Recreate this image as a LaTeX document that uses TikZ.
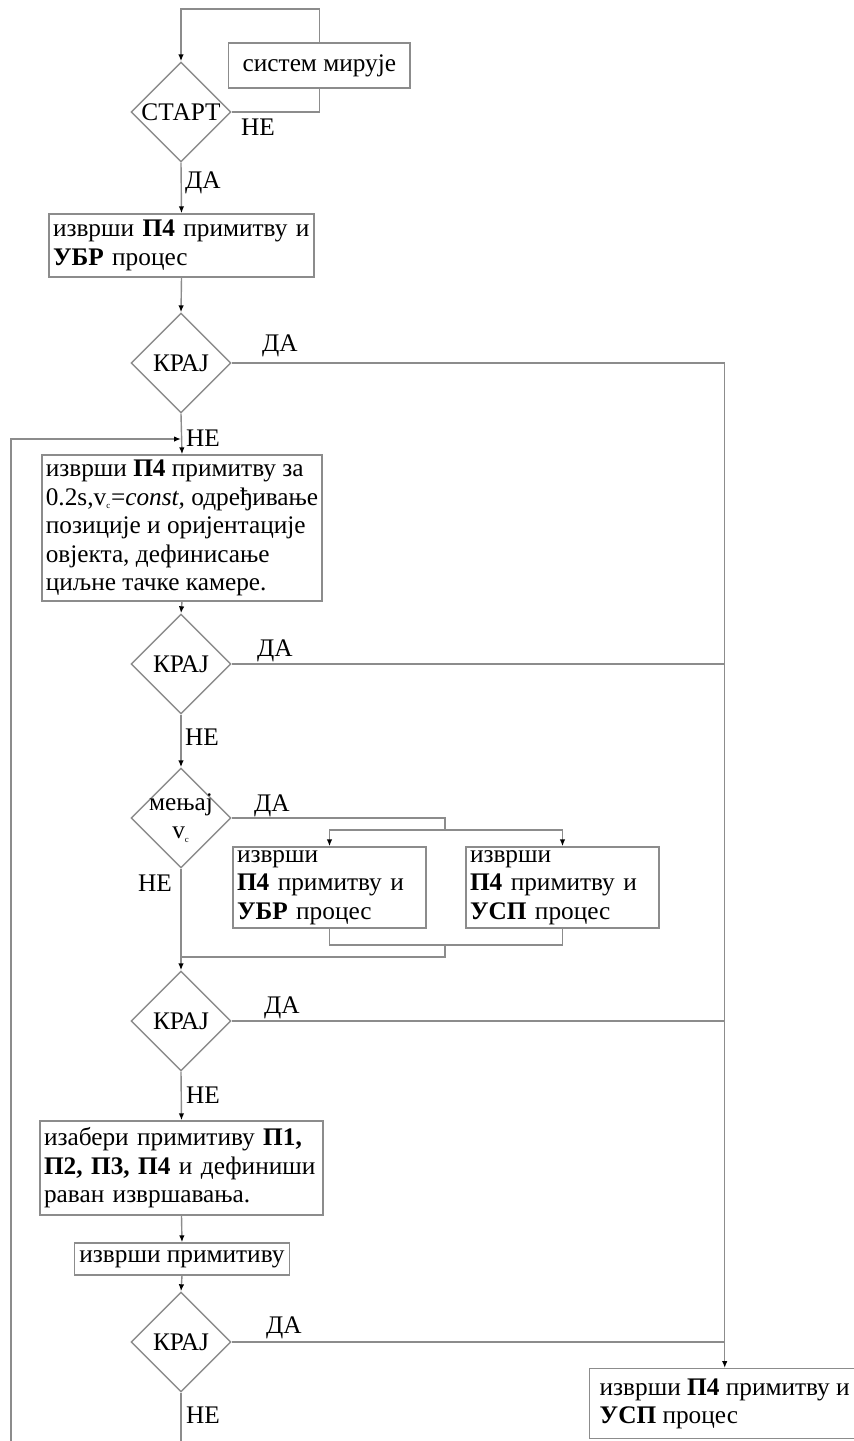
\documentclass[tikz,border=0pt]{standalone}
\usepackage{fontspec}
\setmainfont{Liberation Serif}
\usetikzlibrary{shapes.geometric,arrows.meta}
\definecolor{linija}{gray}{0.55}
\newcommand{\vc}{v\textsubscript{\tiny c}}

\begin{document}
\begin{tikzpicture}[x=0.02cm, y=-0.02cm,
  font=\fontsize{14.4}{16.2}\selectfont,
  blok/.style={rectangle, draw=linija, line width=0.8pt, inner xsep=0.08cm, inner ysep=0pt, align=left},
  odluka/.style={diamond, draw=linija, line width=0.8pt, aspect=1, minimum width=2cm, minimum height=2cm, inner sep=0pt, align=center},
  veza/.style={draw=linija, line width=0.8pt},
  strelica/.style={veza, -{Latex[length=1.4mm, width=1.1mm, color=black]}},
  oznaka/.style={inner sep=0pt}]

\useasboundingbox (0,0) rectangle (853,1441);

% Pocetak
\node[odluka] (start) at (181,112) {СТАРТ};
\node[blok, anchor=west, inner xsep=0.28cm, minimum height=0.9cm] (mir) at (228,65.5) {систем мирује};
\node[blok, text width=5.14cm, minimum height=1.26cm] (p1) at (181.5,245.5)
	{изврши \textbf{П4} примитву и\\\textbf{УБР} процес};
\node[odluka] (kraj1) at (181,363) {КРАЈ};

% Glavna petlja
\node[blok, inner xsep=0.04cm, minimum width=5.6cm, minimum height=2.92cm] (p2) at (182,528)
	{изврши \textbf{П4} примитву за\\
	 0.2s,\vc=\textit{const,} одређивање\\
	 позиције и оријентације\\
	 овјекта, дефинисање\\
	 циљне тачке камере.};
\node[odluka] (kraj2) at (181,664) {КРАЈ};
\node[odluka, inner sep=-3pt] (menjaj) at (181,818) {мењај\\\vc};
\node[blok, text width=3.7cm, minimum height=1.62cm] (ubr) at (329.5,887.5)
	{изврши\\\textbf{П4} примитву и\\\textbf{УБР} процес};
\node[blok, text width=3.7cm, minimum height=1.62cm] (usp) at (562.5,887.5)
	{изврши\\\textbf{П4} примитву и\\\textbf{УСП} процес};
\node[odluka] (kraj3) at (181,1021) {КРАЈ};
\node[blok, text width=5.5cm, minimum height=1.88cm] (p4) at (181.5,1168)
	{изабери примитиву \textbf{П1,}\\\textbf{П2, П3, П4} и дефиниши\\раван извршавања.};
\node[blok, inner xsep=0.1cm, minimum height=0.64cm] (p5) at (182,1259) {изврши примитиву};
\node[odluka] (kraj4) at (181,1342) {КРАЈ};
\node[blok, anchor=north west, inner xsep=0.2cm, minimum height=1.4cm] (fin) at (589,1368)
	{изврши \textbf{П4} примитву и\\\textbf{УСП} процес};

% Oznake grana
\node[oznaka] (neStart) at (258,127) {НЕ};
\node[oznaka] (daStart) at (203,183) {ДА};
\node[oznaka] (da1) at (280,346) {ДА};
\node[oznaka] (ne1) at (203,438) {НЕ};
\node[oznaka] (da2) at (275,651) {ДА};
\node[oznaka] (ne2) at (202,737) {НЕ};
\node[oznaka] (daV) at (272,806) {ДА};
\node[oznaka] (neV) at (155,883) {НЕ};
\node[oznaka] (da3) at (282,1008) {ДА};
\node[oznaka] (ne3) at (203,1095) {НЕ};
\node[oznaka] (da4) at (284,1328) {ДА};
\node[oznaka] (ne4) at (203,1415) {НЕ};

% Veze
\coordinate (vrh) at (181,9);
\draw[veza] (start.east) -| (mir.south);
\draw[strelica] (mir.north) |- (vrh) -- (start.north);
\draw[strelica] (start.south) -- (p1.north);
\draw[strelica] (p1.south) -- (kraj1.north);
\draw[strelica] (kraj1.south) -- (p2.north);

\coordinate (ulaz) at (181,439);
\coordinate (petlja) at (11,1441);
\draw[strelica] (petlja) |- (ulaz);

\draw[strelica] (p2.south) -- (kraj2.north);
\draw[strelica] (kraj2.south) -- (menjaj.north);

\coordinate (grana) at (445,830);
\draw[veza] (menjaj.east) -| (grana);
\draw[strelica] (grana) -| (ubr.north);
\draw[strelica] (grana) -| (usp.north);
\coordinate (spoj) at (445,945);
\coordinate (spoj2) at (181,957);
\draw[veza] (ubr.south) |- (spoj) -| (usp.south);
\draw[veza] (spoj) |- (spoj2);

\draw[strelica] (menjaj.south) -- (kraj3.north);
\draw[strelica] (kraj3.south) -- (p4.north);
\draw[strelica] (p4.south) -- (p5.north);
\draw[strelica] (p5.south) -- (kraj4.north);
\coordinate (izlaz) at (181,1441);
\draw[veza] (kraj4.south) -- (izlaz);

% Desna grana (ДА)
\draw[strelica] (kraj1.east) -| (fin.north);
\foreach \k in {kraj2, kraj3, kraj4}
	\draw[veza] (\k.east) -- (\k.east -| fin.north);

\end{tikzpicture}
\end{document}
